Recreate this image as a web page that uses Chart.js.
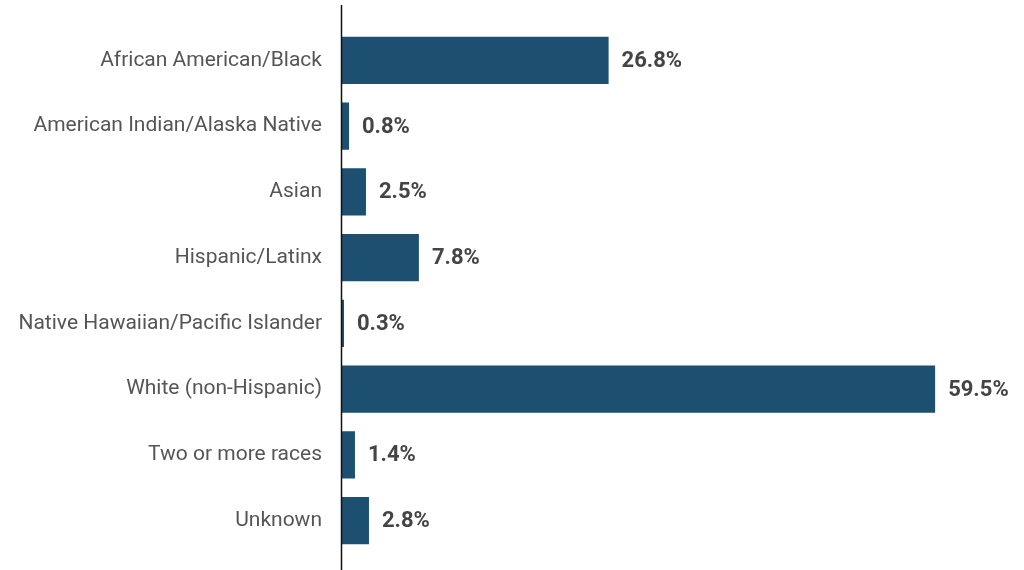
<!DOCTYPE html>
<html>
<head>
<meta charset="utf-8">
<script src="https://cdn.jsdelivr.net/npm/chart.js@4"></script>
<style>
  html, body { margin: 0; padding: 0; background: #fff; }
  #wrap { width: 1024px; height: 570px; position: relative; }
</style>
</head>
<body>
<div id="wrap"><canvas id="chart"></canvas></div>
<script>
// data
const categories = [
  'African American/Black',
  'American Indian/Alaska Native',
  'Asian',
  'Hispanic/Latinx',
  'Native Hawaiian/Pacific Islander',
  'White (non-Hispanic)',
  'Two or more races',
  'Unknown'
];
const shares = [26.8, 0.8, 2.5, 7.8, 0.3, 59.5, 1.4, 2.8];

const BAR = '#1c4f70';
const LABEL_FONT = "Roboto, 'Noto Sans', sans-serif";

// value labels at the bar ends
const valueLabels = {
  id: 'valueLabels',
  afterDatasetsDraw(chart) {
    const ctx = chart.ctx;
    const meta = chart.getDatasetMeta(0);
    ctx.save();
    ctx.font = 'bold 22px ' + LABEL_FONT;
    ctx.fillStyle = '#444';
    ctx.textBaseline = 'middle';
    ctx.textAlign = 'left';
    meta.data.forEach((bar, i) => {
      ctx.fillText(shares[i].toFixed(1) + '%', bar.x + 13, bar.y + 1);
    });
    ctx.restore();
  }
};

// the vertical axis line runs a bit past the plot area
const axisLine = {
  id: 'axisLine',
  afterDraw(chart) {
    const { ctx, chartArea } = chart;
    ctx.save();
    ctx.strokeStyle = '#111';
    ctx.lineWidth = 1.5;
    ctx.beginPath();
    ctx.moveTo(chartArea.left + 0.5, 5);
    ctx.lineTo(chartArea.left + 0.5, 570);
    ctx.stroke();
    ctx.restore();
  }
};

new Chart(document.getElementById('chart'), {
  type: 'bar',
  data: {
    labels: categories,
    datasets: [{
      data: shares,
      backgroundColor: BAR,
      borderWidth: 0,
      barPercentage: 0.72,
      categoryPercentage: 1
    }]
  },
  options: {
    indexAxis: 'y',
    responsive: true,
    maintainAspectRatio: false,
    animation: false,
    layout: { padding: { top: 27.6, bottom: 16.6, left: 0, right: 0 } },
    plugins: { legend: { display: false }, tooltip: { enabled: false } },
    scales: {
      x: {
        display: false,
        min: 0,
        max: 68.4
      },
      y: {
        // tick padding would also pad the plot vertically, so the gap comes from tickLength
        grid: { display: false, drawTicks: true, tickLength: 19 },
        border: { display: false },
        afterFit(scale) { scale.width = 341; },
        ticks: {
          padding: 0,
          color: '#555',
          font: { family: LABEL_FONT, size: 21 }
        }
      }
    }
  },
  plugins: [valueLabels, axisLine]
});
</script>
</body>
</html>
